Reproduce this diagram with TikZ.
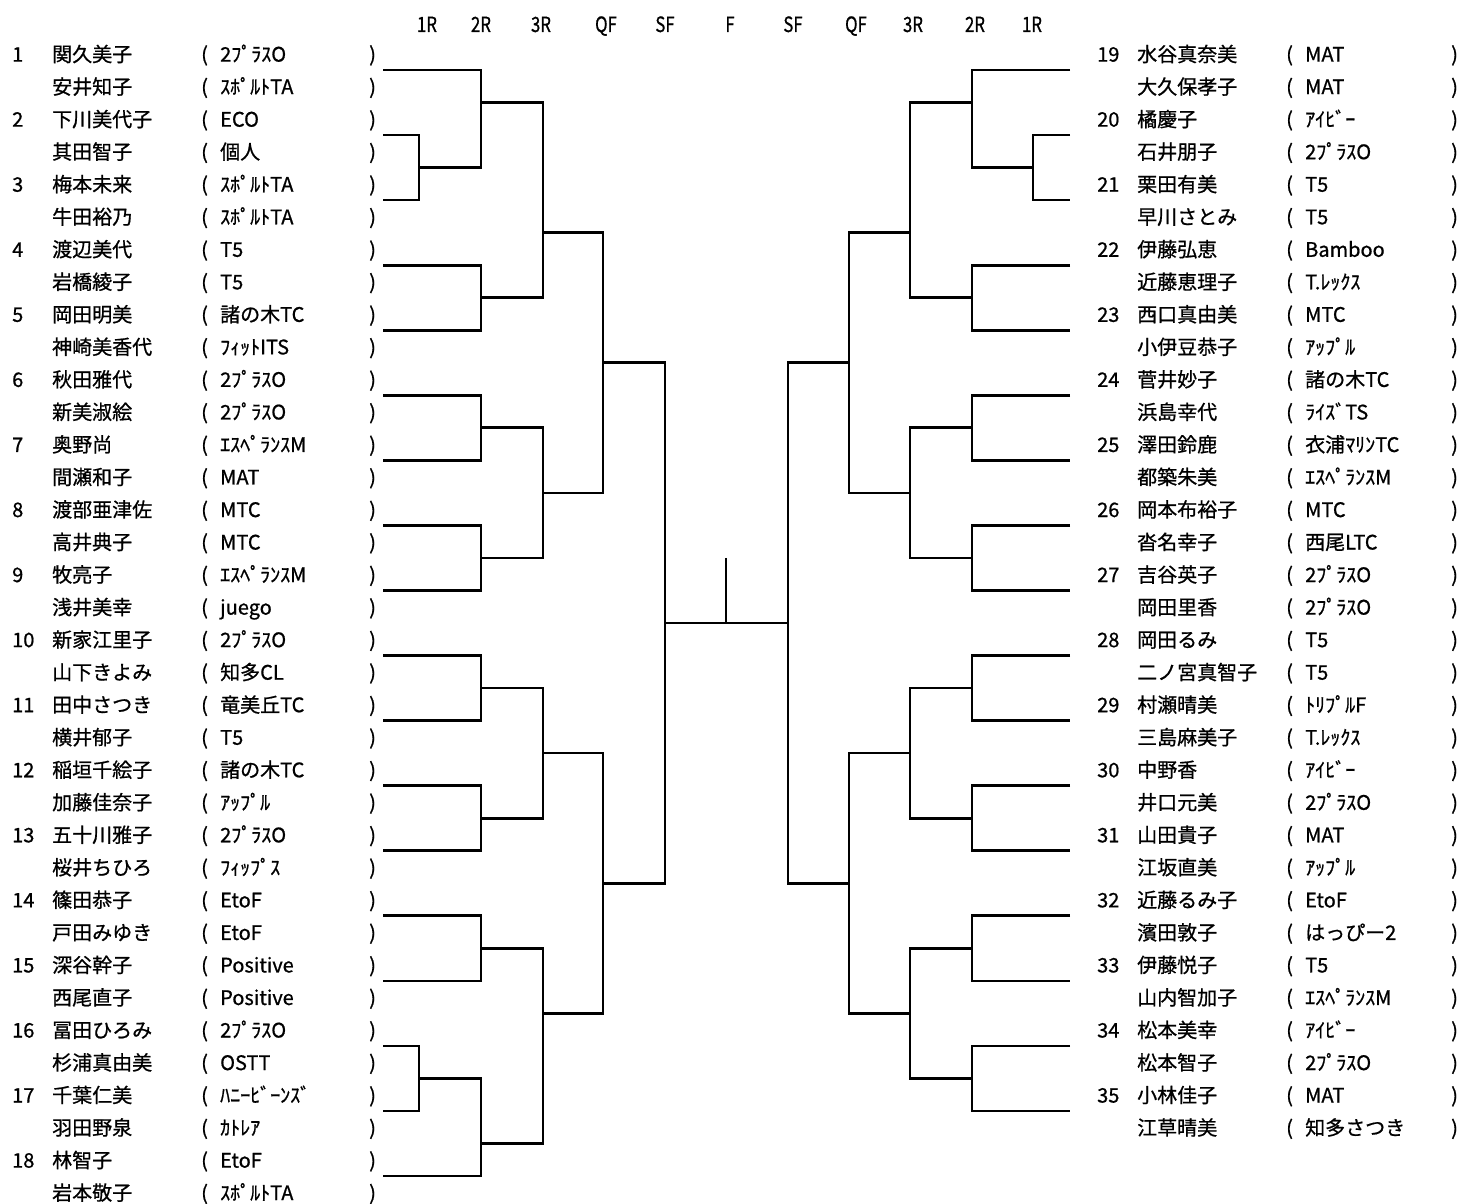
\documentclass[tikz,border=0pt]{standalone}
\usepackage{fontspec}
\setmainfont{Noto Sans CJK JP}[FakeBold=0.8]
\def\B#1{(70+32.53*(#1))}
\def\R#1{(61.6+32.53*(#1))}
\newcommand\mt[5]{\draw[br] (#1,{\B{#2}}) -- (#3,{\B{#2}}) -- (#3,{\B{#4}}) -- (#5,{\B{#4}});}
\begin{document}
\begin{tikzpicture}[x=1pt,y=-1pt,
  br/.style={line width=2.7pt,line join=miter},
  txt/.style={anchor=base west,inner sep=0pt,font=\fontsize{20}{24}\selectfont},
  hd/.style={anchor=base,inner sep=0pt,font=\fontsize{21}{24}\selectfont}]
\useasboundingbox (0,0) rectangle (1459,1204);
% header
\foreach \t/\x [count=\j] in {1R/427,2R/481,3R/541,QF/606,SF/665,F/730,SF/793,QF/856,3R/913,2R/975,1R/1032}
  \node[hd] (h\j) at (\x,32) {\scalebox{0.8}[1]{\t}};
% left entries
\foreach \n/\nm/\cl [count=\i from 0] in {
 1/関久美子/2ﾌﾟﾗｽO, {}/安井知子/ｽﾎﾟﾙﾄTA,
 2/下川美代子/ECO, {}/其田智子/個人,
 3/梅本未来/ｽﾎﾟﾙﾄTA, {}/牛田裕乃/ｽﾎﾟﾙﾄTA,
 4/渡辺美代/T5, {}/岩橋綾子/T5,
 5/岡田明美/諸の木TC, {}/神崎美香代/ﾌｨｯﾄITS,
 6/秋田雅代/2ﾌﾟﾗｽO, {}/新美淑絵/2ﾌﾟﾗｽO,
 7/奥野尚/ｴｽﾍﾟﾗﾝｽM, {}/間瀬和子/MAT,
 8/渡部亜津佐/MTC, {}/高井典子/MTC,
 9/牧亮子/ｴｽﾍﾟﾗﾝｽM, {}/浅井美幸/juego,
 10/新家江里子/2ﾌﾟﾗｽO, {}/山下きよみ/知多CL,
 11/田中さつき/竜美丘TC, {}/横井郁子/T5,
 12/稲垣千絵子/諸の木TC, {}/加藤佳奈子/ｱｯﾌﾟﾙ,
 13/五十川雅子/2ﾌﾟﾗｽO, {}/桜井ちひろ/ﾌｨｯﾌﾟｽ,
 14/篠田恭子/EtoF, {}/戸田みゆき/EtoF,
 15/深谷幹子/Positive, {}/西尾直子/Positive,
 16/冨田ひろみ/2ﾌﾟﾗｽO, {}/杉浦真由美/OSTT,
 17/千葉仁美/ﾊﾆｰﾋﾞｰﾝｽﾞ, {}/羽田野泉/ｶﾄﾚｱ,
 18/林智子/EtoF, {}/岩本敬子/ｽﾎﾟﾙﾄTA}{
  \node[txt] (Ln\i) at (12,{\R{\i}}) {\n};
  \node[txt] (Lm\i) at (52,{\R{\i}}) {\nm};
  \node[txt] (Lo\i) at (201,{\R{\i}}) {(};
  \node[txt] (Lc\i) at (220,{\R{\i}}) {\cl};
  \node[txt] (Lx\i) at (369,{\R{\i}}) {)};
}
% right entries
\foreach \n/\nm/\cl [count=\i from 0] in {
 19/水谷真奈美/MAT, {}/大久保孝子/MAT,
 20/橘慶子/ｱｲﾋﾞｰ, {}/石井朋子/2ﾌﾟﾗｽO,
 21/栗田有美/T5, {}/早川さとみ/T5,
 22/伊藤弘恵/Bamboo, {}/近藤恵理子/T.ﾚｯｸｽ,
 23/西口真由美/MTC, {}/小伊豆恭子/ｱｯﾌﾟﾙ,
 24/菅井妙子/諸の木TC, {}/浜島幸代/ﾗｲｽﾞTS,
 25/澤田鈴鹿/衣浦ﾏﾘﾝTC, {}/都築朱美/ｴｽﾍﾟﾗﾝｽM,
 26/岡本布裕子/MTC, {}/沓名幸子/西尾LTC,
 27/吉谷英子/2ﾌﾟﾗｽO, {}/岡田里香/2ﾌﾟﾗｽO,
 28/岡田るみ/T5, {}/二ノ宮真智子/T5,
 29/村瀬晴美/ﾄﾘﾌﾟﾙF, {}/三島麻美子/T.ﾚｯｸｽ,
 30/中野香/ｱｲﾋﾞｰ, {}/井口元美/2ﾌﾟﾗｽO,
 31/山田貴子/MAT, {}/江坂直美/ｱｯﾌﾟﾙ,
 32/近藤るみ子/EtoF, {}/濱田敦子/はっぴー2,
 33/伊藤悦子/T5, {}/山内智加子/ｴｽﾍﾟﾗﾝｽM,
 34/松本美幸/ｱｲﾋﾞｰ, {}/松本智子/2ﾌﾟﾗｽO,
 35/小林佳子/MAT, {}/江草晴美/知多さつき}{
  \node[txt] (Rn\i) at (1097,{\R{\i}}) {\n};
  \node[txt] (Rm\i) at (1137,{\R{\i}}) {\nm};
  \node[txt] (Ro\i) at (1286,{\R{\i}}) {(};
  \node[txt] (Rc\i) at (1305,{\R{\i}}) {\cl};
  \node[txt] (Rx\i) at (1451,{\R{\i}}) {)};
}
% left bracket
\mt{383}{2}{419}{4}{383}
\mt{383}{30}{419}{32}{383}
\mt{383}{0}{481}{3}{419}
\foreach \a in {6,10,14,18,22,26}{\mt{383}{\a}{481}{\a+2}{383}}
\mt{419}{31}{481}{34}{383}
\mt{481}{1}{543}{7}{481}
\mt{481}{11}{543}{15}{481}
\mt{481}{19}{543}{23}{481}
\mt{481}{27}{543}{33}{481}
\mt{543}{5}{603}{13}{543}
\mt{543}{21}{603}{29}{543}
\mt{603}{9}{665}{25}{603}
% final
\draw[br] (665,{\B{17}}) -- (788,{\B{17}});
\draw[br] (726,{\B{15}}) -- (726,{\B{17}});
% right bracket
\mt{1070}{2}{1033}{4}{1070}
\mt{1070}{0}{972}{3}{1033}
\foreach \a in {6,10,14,18,22,26,30}{\mt{1070}{\a}{972}{\a+2}{1070}}
\mt{972}{1}{910}{7}{972}
\mt{972}{11}{910}{15}{972}
\mt{972}{19}{910}{23}{972}
\mt{972}{27}{910}{31}{972}
\mt{910}{5}{849}{13}{910}
\mt{910}{21}{849}{29}{910}
\mt{849}{9}{788}{25}{849}
\end{tikzpicture}
\end{document}
